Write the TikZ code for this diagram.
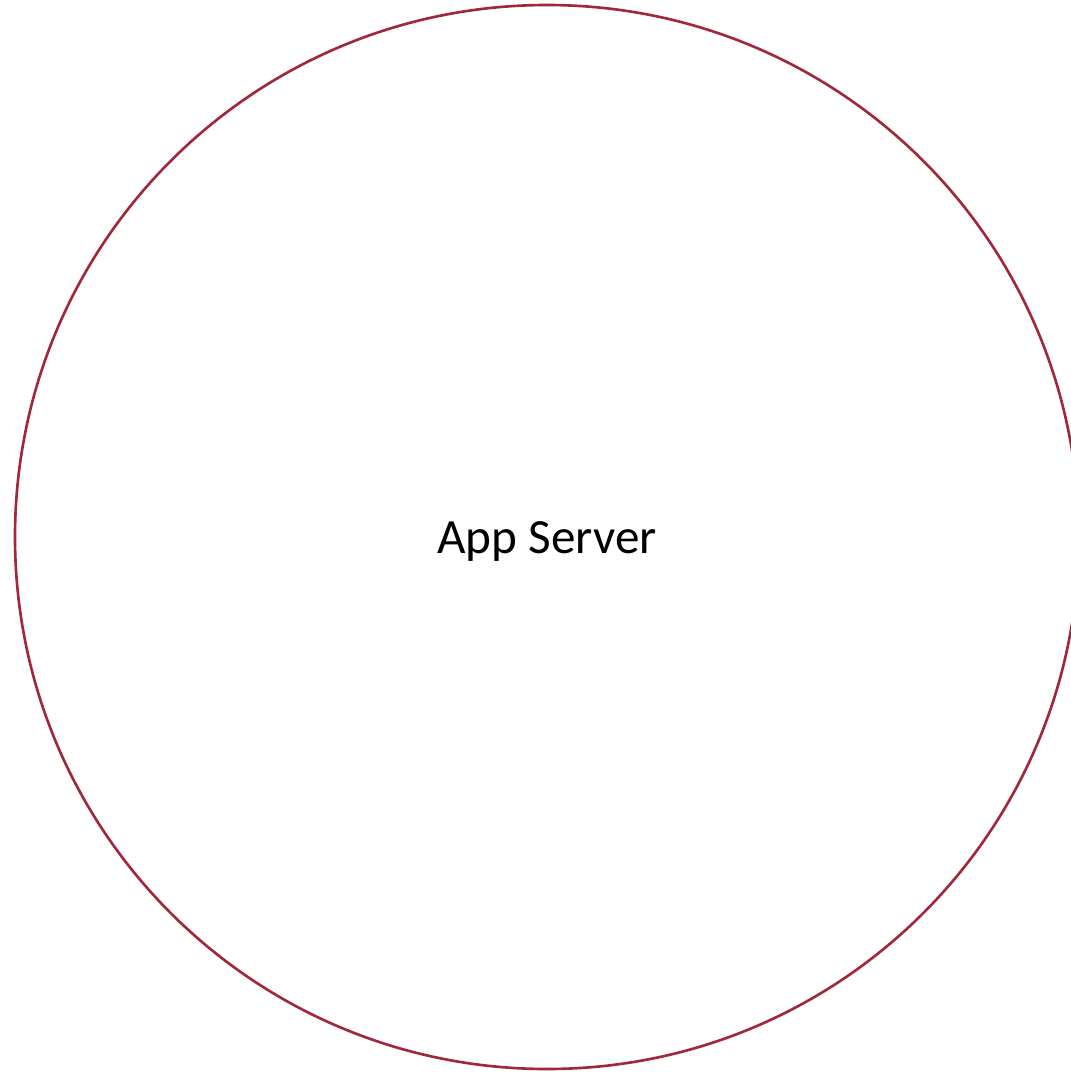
\documentclass[tikz,border=0pt]{standalone}
\usepackage{fontspec}
\setmainfont{Carlito}
\usepackage{tikz}
\definecolor{srvred}{HTML}{A1283A}

\begin{document}
\begin{tikzpicture}[x=0.01cm,y=-0.01cm,srv/.style={srvred,line width=0.75pt},lbl/.style={font=\fontsize{14}{17}\selectfont,inner sep=0pt}]
\useasboundingbox (0,0) rectangle (1071,1072);
\draw[srv] (547,537) circle [radius=532];
\node[lbl] (appserver) at (547,541) {App Server};
\end{tikzpicture}
\end{document}
